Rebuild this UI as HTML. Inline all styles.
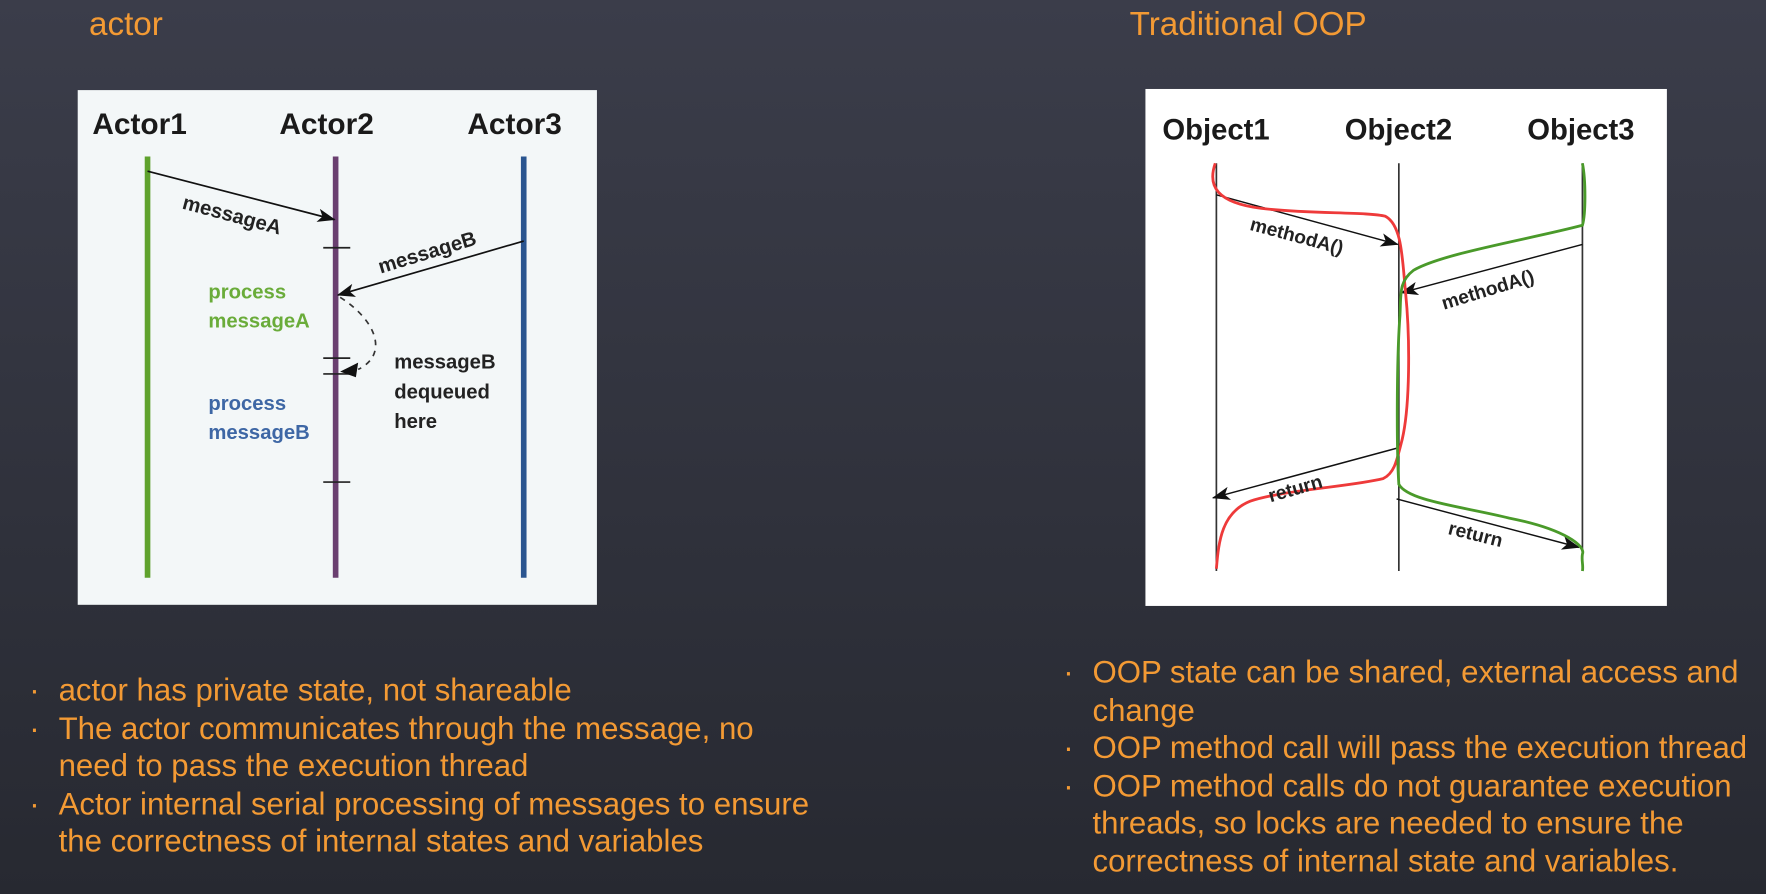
<!DOCTYPE html>
<html><head><meta charset="utf-8"><style>
html,body{margin:0;padding:0;}
body{width:1766px;height:894px;overflow:hidden;background:linear-gradient(#3b3d4a,#272931);}
#s{position:absolute;left:0;top:0;width:1568px;height:794px;transform:scale(1.12628);transform-origin:0 0;font-family:"Liberation Sans",sans-serif;}
.t{position:absolute;color:#f39a34;font-size:29.5px;white-space:nowrap;}
.b{position:absolute;color:#f39a34;font-size:27.7px;line-height:33.5px;}
.b div{position:relative;}
.b div:before{content:"·";position:absolute;left:-26px;color:#f39a34;}
</style></head><body><div id="s">
<div class="t" style="left:79px;top:5px;">actor</div>
<div class="t" style="left:1003px;top:5px;">Traditional OOP</div>
<svg style="position:absolute;left:0;top:0" width="1568" height="794">
<defs>
<marker id="ah2" markerWidth="16" markerHeight="12" refX="15" refY="6" orient="auto" markerUnits="userSpaceOnUse"><path d="M0,0 L16,6 L0,12 L4,6Z" fill="#111"/></marker>
</defs>
<rect x="69" y="80" width="461" height="457" fill="#f3f7f8"/>
<g font-family="Liberation Sans,sans-serif" font-weight="bold" font-size="26.5" fill="#1a1a1a">
<text x="82" y="119">Actor1</text><text x="248" y="119">Actor2</text><text x="415" y="119">Actor3</text></g>
<line x1="131" y1="139" x2="131" y2="513" stroke="#5fa22d" stroke-width="5"/>
<line x1="298" y1="139" x2="298" y2="513" stroke="#6a3f70" stroke-width="5"/>
<line x1="465" y1="139" x2="465" y2="513" stroke="#2a5590" stroke-width="5"/>
<g stroke="#222" stroke-width="1.5">
<line x1="287" y1="220" x2="311" y2="220"/><line x1="287" y1="318" x2="311" y2="318"/><line x1="287" y1="332" x2="311" y2="332"/><line x1="287" y1="428" x2="311" y2="428"/></g>
<line x1="131" y1="152" x2="297" y2="195" stroke="#111" stroke-width="1.5" marker-end="url(#ah2)"/>
<line x1="465" y1="214" x2="300" y2="262" stroke="#111" stroke-width="1.5" marker-end="url(#ah2)"/>
<path d="M302,264 C335,285 345,315 318,328" fill="none" stroke="#333" stroke-width="1.5" stroke-dasharray="5,5"/>
<path d="M302,330 L318,322 L316,335Z" fill="#111"/>
<g font-family="Liberation Sans,sans-serif" font-size="18" font-weight="bold">
<text transform="translate(161,185) rotate(15)" fill="#222">messageA</text>
<text transform="translate(338,243) rotate(-17)" fill="#222">messageB</text>
<text x="185" y="265" fill="#6aac3a">process</text><text x="185" y="291" fill="#6aac3a">messageA</text>
<text x="185" y="364" fill="#3e67a5">process</text><text x="185" y="390" fill="#3e67a5">messageB</text>
<text x="350" y="327" fill="#222">messageB</text><text x="350" y="354" fill="#222">dequeued</text><text x="350" y="380" fill="#222">here</text></g>

<rect x="1017" y="79" width="463" height="459" fill="#fff"/>
<g font-family="Liberation Sans,sans-serif" font-weight="bold" font-size="26" fill="#1a1a1a">
<text x="1032" y="124">Object1</text><text x="1194" y="124">Object2</text><text x="1356" y="124">Object3</text></g>
<g stroke="#333" stroke-width="1.5">
<line x1="1080" y1="145" x2="1080" y2="507"/><line x1="1242" y1="145" x2="1242" y2="507"/><line x1="1405" y1="145" x2="1405" y2="507"/></g>
<line x1="1080" y1="173" x2="1241" y2="217" stroke="#111" stroke-width="1.3" marker-end="url(#ah2)"/>
<line x1="1405" y1="217" x2="1244" y2="260" stroke="#111" stroke-width="1.3" marker-end="url(#ah2)"/>
<line x1="1240" y1="398" x2="1077" y2="442" stroke="#111" stroke-width="1.3" marker-end="url(#ah2)"/>
<line x1="1240" y1="443" x2="1402" y2="486" stroke="#111" stroke-width="1.3" marker-end="url(#ah2)"/>
<path d="M1079,145 C1072,165 1080,180 1120,185 C1160,190 1215,188 1230,192 C1245,200 1245,230 1248,260 C1252,300 1252,360 1245,390 C1240,410 1238,420 1228,425 C1200,432 1140,435 1110,445 C1085,455 1082,480 1080,505" fill="none" stroke="#ee3a3a" stroke-width="2.5"/>
<path d="M1405,145 C1408,160 1408,190 1405,200 C1360,212 1280,225 1255,240 C1242,250 1244,260 1243,280 C1240,320 1240,400 1242,430 C1250,445 1300,450 1340,460 C1390,470 1408,485 1405,492 C1404,498 1406,502 1405,507" fill="none" stroke="#4a9a2a" stroke-width="2.5"/>
<g font-family="Liberation Sans,sans-serif" font-size="17" font-weight="bold" fill="#222">
<text transform="translate(1109,204) rotate(15)">methodA()</text>
<text transform="translate(1282,275) rotate(-17)">methodA()</text>
<text transform="translate(1128,446) rotate(-16)">return</text>
<text transform="translate(1285,474) rotate(14)">return</text></g>
</svg>
<div class="b" style="left:52px;top:596px;width:680px;">
<div>actor has private state, not shareable</div>
<div>The actor communicates through the message, no need to pass the execution thread</div>
<div>Actor internal serial processing of messages to ensure the correctness of internal states and variables</div></div>
<div class="b" style="left:970px;top:580px;width:598px;">
<div>OOP state can be shared, external access and change</div>
<div>OOP method call will pass the execution thread</div>
<div>OOP method calls do not guarantee execution threads, so locks are needed to ensure the correctness of internal state and variables.</div></div>
</div></body></html>
